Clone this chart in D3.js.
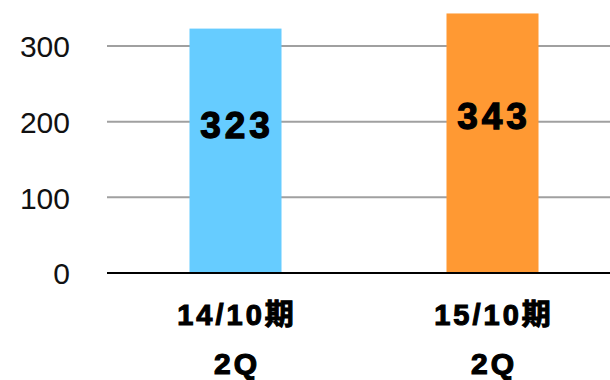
<!DOCTYPE html>
<html>
<head>
<meta charset="utf-8">
<script src="https://cdn.jsdelivr.net/npm/d3@7"></script>
<style>
  html, body { margin: 0; padding: 0; background: #fff; }
  svg { display: block; }
</style>
</head>
<body>
<svg id="chart" width="610" height="380"></svg>
<script>
// Half-year results, second quarter
const categories = ["14/10期", "15/10期"];
const subLabels = ["2Q", "2Q"];
const values = [323, 343];
const barColors = ["#66CCFF", "#FF9933"];
const yTicks = [0, 100, 200, 300];

const width = 610, height = 380;
const plotLeft = 107, plotBottom = 273, plotTop = 46;

const svg = d3.select("#chart");

const x = d3.scaleBand()
  .domain(categories)
  .range([plotLeft, 621])
  .paddingInner(0.642)
  .paddingOuter(0.321);

const y = d3.scaleLinear()
  .domain([0, 300])
  .range([plotBottom, plotTop]);

// gridlines
svg.append("g")
  .selectAll("line")
  .data(yTicks.filter(d => d > 0))
  .join("line")
  .attr("x1", plotLeft)
  .attr("x2", width)
  .attr("y1", d => y(d))
  .attr("y2", d => y(d))
  .attr("stroke", "#a0a0a0")
  .attr("stroke-width", 2);

// y-axis labels
const yAxis = d3.axisLeft(y).tickValues(yTicks).tickSize(0).tickPadding(0);
const yg = svg.append("g")
  .attr("transform", "translate(70,0)")
  .call(yAxis);
yg.select(".domain").remove();
yg.selectAll("text")
  .attr("font-family", "'Liberation Sans', Arial, sans-serif")
  .attr("font-size", 30)
  .attr("fill", "#111")
  .attr("dy", "0.36em");

// bars
svg.append("g")
  .selectAll("rect")
  .data(values)
  .join("rect")
  .attr("x", (d, i) => x(categories[i]))
  .attr("width", x.bandwidth())
  .attr("y", d => y(d))
  .attr("height", d => y(0) - y(d))
  .attr("fill", (d, i) => barColors[i]);

// baseline
svg.append("line")
  .attr("x1", plotLeft)
  .attr("x2", width)
  .attr("y1", y(0))
  .attr("y2", y(0))
  .attr("stroke", "#000")
  .attr("stroke-width", 2.2);

// value labels inside the bars
svg.append("g")
  .selectAll("text")
  .data(values)
  .join("text")
  .attr("x", (d, i) => x(categories[i]) + x.bandwidth() / 2 + 1.5)
  .attr("y", d => y(d * 0.607))
  .attr("dy", "0.36em")
  .attr("text-anchor", "middle")
  .attr("font-family", "'Liberation Sans', Arial, sans-serif")
  .attr("font-weight", "bold")
  .attr("font-size", 37)
  .attr("letter-spacing", 4)
  .attr("stroke", "#000")
  .attr("stroke-width", 1.3)
  .attr("fill", "#000")
  .text(d => d);

// category labels
const catG = svg.append("g");
catG.selectAll("text.cat")
  .data(categories)
  .join("text")
  .attr("class", "cat")
  .attr("x", d => x(d) + x.bandwidth() / 2 + 1.5)
  .attr("y", 325)
  .attr("text-anchor", "middle")
  .attr("font-family", "'Liberation Sans', 'Noto Sans CJK JP', sans-serif")
  .attr("font-weight", "bold")
  .attr("font-size", 29)
  .attr("letter-spacing", 3)
  .attr("stroke", "#000")
  .attr("stroke-width", 1.1)
  .attr("fill", "#000")
  .text(d => d);

catG.selectAll("text.sub")
  .data(subLabels)
  .join("text")
  .attr("class", "sub")
  .attr("x", (d, i) => x(categories[i]) + x.bandwidth() / 2 + 1.5)
  .attr("y", 374)
  .attr("text-anchor", "middle")
  .attr("font-family", "'Liberation Sans', sans-serif")
  .attr("font-weight", "bold")
  .attr("font-size", 30)
  .attr("letter-spacing", 3)
  .attr("stroke", "#000")
  .attr("stroke-width", 1.2)
  .attr("fill", "#000")
  .text(d => d);
</script>
</body>
</html>
